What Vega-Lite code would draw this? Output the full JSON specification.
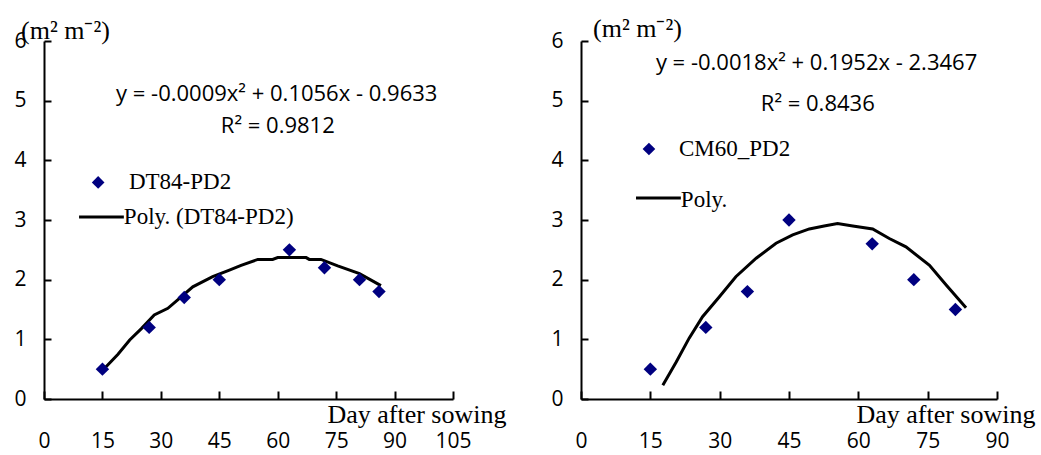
{
  "$schema": "https://vega.github.io/schema/vega-lite/v6.json",
  "background": "white",
  "padding": {"left": 13, "top": 16, "right": 5, "bottom": 5},
  "bounds": "flush",
  "spacing": 128,
  "config": {
    "view": {"stroke": null},
    "axis": {
      "grid": false,
      "domainColor": "black",
      "domainWidth": 2,
      "tickColor": "black",
      "tickWidth": 2,
      "labelColor": "black",
      "labelFont": "Open Sans",
      "labelFontSize": 21,
      "titleColor": "black",
      "titleFont": "Liberation Serif",
      "titleFontSize": 26,
      "titleFontWeight": "normal"
    },
    "axisY": {"tickSize": -7, "labelPadding": 25, "title": null},
    "axisX": {"tickSize": -8, "labelPadding": 39, "labelDx": 2, "titleAlign": "right", "titleBaseline": "alphabetic", "titleY": 23, "labelFlush": false}
  },
  "datasets": {
    "anchor": [{}],
    "dt84pts": [
      {"day": 15, "lai": 0.5}, {"day": 27, "lai": 1.2}, {"day": 36, "lai": 1.7}, {"day": 45, "lai": 2.0},
      {"day": 63, "lai": 2.5}, {"day": 72, "lai": 2.2}, {"day": 81, "lai": 2.0}, {"day": 86, "lai": 1.8}
    ],
    "dt84fit": [
      {"day": 15.5, "lai": 0.51}, {"day": 19, "lai": 0.75}, {"day": 22, "lai": 0.99}, {"day": 25, "lai": 1.18},
      {"day": 28.3, "lai": 1.41}, {"day": 31.8, "lai": 1.52}, {"day": 35, "lai": 1.7}, {"day": 38.2, "lai": 1.88},
      {"day": 43.3, "lai": 2.05}, {"day": 47.6, "lai": 2.16}, {"day": 50.6, "lai": 2.24}, {"day": 54.9, "lai": 2.34},
      {"day": 58.7, "lai": 2.34}, {"day": 60, "lai": 2.37}, {"day": 67.3, "lai": 2.37}, {"day": 68.1, "lai": 2.34},
      {"day": 71.1, "lai": 2.34}, {"day": 75.4, "lai": 2.23}, {"day": 81, "lai": 2.1}, {"day": 86.5, "lai": 1.9}
    ],
    "cm60pts": [
      {"day": 15, "lai": 0.5}, {"day": 27, "lai": 1.2}, {"day": 36, "lai": 1.8}, {"day": 45, "lai": 3.0},
      {"day": 63, "lai": 2.6}, {"day": 72, "lai": 2.0}, {"day": 81, "lai": 1.5}
    ],
    "cm60fit": [
      {"day": 17.7, "lai": 0.23}, {"day": 20.6, "lai": 0.62}, {"day": 23.4, "lai": 1.02}, {"day": 26.3, "lai": 1.38},
      {"day": 29.9, "lai": 1.71}, {"day": 33.5, "lai": 2.05}, {"day": 37.9, "lai": 2.36}, {"day": 42.2, "lai": 2.61},
      {"day": 45.8, "lai": 2.75}, {"day": 49.4, "lai": 2.85}, {"day": 52.6, "lai": 2.9}, {"day": 55.5, "lai": 2.94},
      {"day": 58.8, "lai": 2.9}, {"day": 63.1, "lai": 2.85}, {"day": 66.7, "lai": 2.69}, {"day": 70.3, "lai": 2.55},
      {"day": 75.4, "lai": 2.24}, {"day": 79, "lai": 1.91}, {"day": 83.3, "lai": 1.53}
    ]
  },
  "hconcat": [
    {
      "width": 409,
      "height": 358,
      "layer": [
        {
          "data": {"name": "dt84fit"},
          "mark": {"type": "line", "color": "black", "strokeWidth": 3},
          "encoding": {
            "x": {"field": "day", "type": "quantitative", "scale": {"domain": [0, 105], "nice": false},
                  "axis": {"values": [0, 15, 30, 45, 60, 75, 90, 105], "title": "Day after sowing", "titleX": 462}},
            "y": {"field": "lai", "type": "quantitative", "scale": {"domain": [0, 6], "nice": false},
                  "axis": {"values": [0, 1, 2, 3, 4, 5, 6], "format": "d"}}
          }
        },
        {
          "data": {"name": "dt84pts"},
          "mark": {"type": "point", "shape": "diamond", "filled": true, "color": "#000080", "size": 180, "opacity": 1},
          "encoding": {
            "x": {"field": "day", "type": "quantitative"},
            "y": {"field": "lai", "type": "quantitative"}
          }
        },
        {
          "data": {"name": "anchor"},
          "mark": {"type": "point", "shape": "diamond", "filled": true, "color": "#000080", "size": 160, "opacity": 1},
          "encoding": {"x": {"datum": 13.9}, "y": {"datum": 3.63}}
        },
        {
          "data": {"name": "anchor"},
          "mark": {"type": "rule", "color": "black", "strokeWidth": 3},
          "encoding": {"x": {"datum": 9.0}, "x2": {"datum": 20.5}, "y": {"datum": 3.05}}
        },
        {
          "data": {"name": "anchor"},
          "mark": {"type": "text", "align": "left", "baseline": "middle", "font": "Liberation Serif", "fontSize": 23, "color": "black"},
          "encoding": {"x": {"datum": 21.8}, "y": {"datum": 3.63}, "text": {"value": "DT84-PD2"}}
        },
        {
          "data": {"name": "anchor"},
          "mark": {"type": "text", "align": "left", "baseline": "middle", "font": "Liberation Serif", "fontSize": 23, "color": "black"},
          "encoding": {"x": {"datum": 20.5}, "y": {"datum": 3.05}, "text": {"value": "Poly. (DT84-PD2)"}}
        },
        {
          "data": {"name": "anchor"},
          "mark": {"type": "text", "align": "left", "baseline": "alphabetic", "font": "Open Sans", "fontSize": 22, "color": "black"},
          "encoding": {"x": {"datum": 18.5}, "y": {"datum": 5.0}, "text": {"value": "y = -0.0009x² + 0.1056x - 0.9633"}}
        },
        {
          "data": {"name": "anchor"},
          "mark": {"type": "text", "align": "left", "baseline": "alphabetic", "font": "Open Sans", "fontSize": 22, "color": "black"},
          "encoding": {"x": {"datum": 45.4}, "y": {"datum": 4.45}, "text": {"value": "R² = 0.9812"}}
        },
        {
          "data": {"name": "anchor"},
          "mark": {"type": "text", "align": "left", "baseline": "alphabetic", "font": "Liberation Serif", "fontSize": 26, "color": "black"},
          "encoding": {"x": {"datum": -5.9}, "y": {"datum": 6.04}, "text": {"value": "(m² m⁻²)"}}
        }
      ]
    },
    {
      "width": 416,
      "height": 358,
      "layer": [
        {
          "data": {"name": "cm60fit"},
          "mark": {"type": "line", "color": "black", "strokeWidth": 3},
          "encoding": {
            "x": {"field": "day", "type": "quantitative", "scale": {"domain": [0, 90], "nice": false},
                  "axis": {"values": [0, 15, 30, 45, 60, 75, 90], "title": "Day after sowing", "titleX": 454}},
            "y": {"field": "lai", "type": "quantitative", "scale": {"domain": [0, 6], "nice": false},
                  "axis": {"values": [0, 1, 2, 3, 4, 5, 6], "format": "d"}}
          }
        },
        {
          "data": {"name": "cm60pts"},
          "mark": {"type": "point", "shape": "diamond", "filled": true, "color": "#000080", "size": 180, "opacity": 1},
          "encoding": {
            "x": {"field": "day", "type": "quantitative"},
            "y": {"field": "lai", "type": "quantitative"}
          }
        },
        {
          "data": {"name": "anchor"},
          "mark": {"type": "point", "shape": "diamond", "filled": true, "color": "#000080", "size": 160, "opacity": 1},
          "encoding": {"x": {"datum": 14.7}, "y": {"datum": 4.19}}
        },
        {
          "data": {"name": "anchor"},
          "mark": {"type": "rule", "color": "black", "strokeWidth": 3},
          "encoding": {"x": {"datum": 11.9}, "x2": {"datum": 21.6}, "y": {"datum": 3.37}}
        },
        {
          "data": {"name": "anchor"},
          "mark": {"type": "text", "align": "left", "baseline": "middle", "font": "Liberation Serif", "fontSize": 23, "color": "black"},
          "encoding": {"x": {"datum": 21.2}, "y": {"datum": 4.19}, "text": {"value": "CM60_PD2"}}
        },
        {
          "data": {"name": "anchor"},
          "mark": {"type": "text", "align": "left", "baseline": "middle", "font": "Liberation Serif", "fontSize": 23, "color": "black"},
          "encoding": {"x": {"datum": 21.6}, "y": {"datum": 3.33}, "text": {"value": "Poly."}}
        },
        {
          "data": {"name": "anchor"},
          "mark": {"type": "text", "align": "left", "baseline": "alphabetic", "font": "Open Sans", "fontSize": 22, "color": "black"},
          "encoding": {"x": {"datum": 16.2}, "y": {"datum": 5.52}, "text": {"value": "y = -0.0018x² + 0.1952x - 2.3467"}}
        },
        {
          "data": {"name": "anchor"},
          "mark": {"type": "text", "align": "left", "baseline": "alphabetic", "font": "Open Sans", "fontSize": 22, "color": "black"},
          "encoding": {"x": {"datum": 38.9}, "y": {"datum": 4.83}, "text": {"value": "R² = 0.8436"}}
        },
        {
          "data": {"name": "anchor"},
          "mark": {"type": "text", "align": "left", "baseline": "alphabetic", "font": "Liberation Serif", "fontSize": 26, "color": "black"},
          "encoding": {"x": {"datum": 2.6}, "y": {"datum": 6.06}, "text": {"value": "(m² m⁻²)"}}
        }
      ]
    }
  ]
}
